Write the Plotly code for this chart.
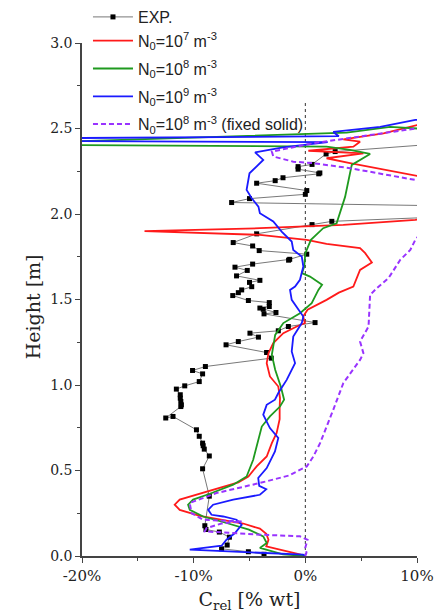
import plotly.graph_objects as go

# ---------------- data (x in % wt, height in m) ----------------
exp_x = [-3.7, -5.1, -7.5, -7.0, -6.8, -7.7, -8.9, -9.0, -8.6, -9.2, -8.6, -9.05, -9.15, -9.2,
         -9.5, -9.75, -11.85, -12.5, -11.15, -11.1, -11.15, -11.2, -11.2, -11.55, -10.8, -9.5,
         -9.2, -10.1, -8.95, -3.05, -3.47, -7.1, -6.0, -4.2, -4.96, -2.42, -1.52, 0.87, -3.7,
         -2.63, -3.77, -4.07, -3.23, -3.23, -5.1, -6.5, -6.0, -5.7, -4.8, -5.0, -4.07, -6.16,
         -5.2, -6.3, -4.72, -1.5, -1.4, 0.13, -4.13, -4.72, -6.46, -4.36, 0.6, 2.37, 30.0, -6.6,
         -5.0, 0.0, 0.13, -4.36, -2.7, -2.0, 1.2, 1.3, -0.65, -0.65, 0.6, 1.86, 2.67, 20.0]
exp_h = [0.01, 0.025, 0.042, 0.064, 0.11, 0.14, 0.155, 0.177, 0.35, 0.51, 0.585, 0.625, 0.645, 0.66,
         0.70, 0.738, 0.816, 0.807, 0.874, 0.884, 0.904, 0.923, 0.943, 0.976, 0.995, 1.02,
         1.065, 1.085, 1.108, 1.157, 1.19, 1.235, 1.254, 1.28, 1.303, 1.317, 1.342, 1.365, 1.416,
         1.424, 1.443, 1.45, 1.459, 1.482, 1.494, 1.523, 1.54, 1.556, 1.575, 1.60, 1.612, 1.638,
         1.67, 1.689, 1.707, 1.73, 1.735, 1.765, 1.786, 1.813, 1.833, 1.884, 1.938, 1.957, 2.03, 2.067,
         2.09, 2.115, 2.137, 2.18, 2.195, 2.212, 2.235, 2.24, 2.262, 2.277, 2.29, 2.351, 2.365, 2.45]

n7_x = [0.0, -0.5, -3.5, -3.3, -3.5, -4.07, -5.57, -7.66, -9.45, -11.25, -11.7, -11.25, -10.05,
        -8.26, -6.0, -5.1, -4.36, -3.46, -3.0, -2.57, -2.3, -2.3, -2.27, -2.42, -3.17, -3.46, -3.3,
        -2.87, -1.97, -0.77, -0.03, -0.2, 0.2, 1.9, 3.0, 4.3, 4.76, 4.9, 5.96, 5.36, 4.9, 1.9, 0.13,
        -4.07, -14.4, -4.07, 3.4, 9.85, 20.0, 10.0, 4.0, 1.9, 5.2, 0.27, 4.3, 4.9, 3.4, 7.0, 10.0, 15.0]
n7_h = [0.0, 0.01, 0.056, 0.095, 0.13, 0.16, 0.19, 0.216, 0.235, 0.27, 0.30, 0.33, 0.352,
        0.388, 0.43, 0.465, 0.524, 0.582, 0.66, 0.72, 0.80, 0.865, 0.923, 0.991, 1.05, 1.128, 1.186,
        1.245, 1.303, 1.342, 1.362, 1.40, 1.44, 1.498, 1.54, 1.576, 1.654, 1.673, 1.716, 1.771, 1.80,
        1.825, 1.849, 1.878, 1.90, 1.917, 1.936, 1.966, 2.1, 2.222, 2.297, 2.326, 2.355, 2.37, 2.394,
        2.423, 2.437, 2.472, 2.52, 2.55]

n8_x = [0.0, -2.0, -4.07, -3.46, -3.77, -5.05, -7.06, -9.15, -10.35, -10.5, -10.05, -8.55, -6.46,
        -5.26, -4.67, -4.22, -3.9, -3.17, -2.27, -1.9, -2.2, -2.7, -3.0, -2.7, -1.97, -0.48, 0.57,
        1.17, 1.5, 0.42, -0.3, -0.1, 0.0, 0.5, 1.6, 2.8, 3.56, 4.0, 4.16, 5.8, 4.0, 1.9, -25.0,
        -25.0, 3.7, 7.6, 10.0, 15.0]
n8_h = [0.0, 0.01, 0.047, 0.076, 0.115, 0.154, 0.193, 0.231, 0.27, 0.30, 0.33, 0.364, 0.417,
        0.465, 0.563, 0.68, 0.757, 0.816, 0.874, 0.914, 0.991, 1.089, 1.177, 1.293, 1.362, 1.42, 1.479,
        1.556, 1.586, 1.634, 1.654, 1.693, 1.771, 1.849, 1.917, 1.946, 2.10, 2.238, 2.287, 2.351,
        2.375, 2.394, 2.405, 2.415, 2.476, 2.51, 2.50, 2.50]

n9_x = [0.0, -0.2, -10.35, -7.5, -7.06, -6.3, -5.7, -6.16, -7.36, -8.4, -8.7, -8.26, -6.46, -4.07,
        -3.5, -4.13, -4.22, -3.46, -2.72, -2.42, -3.17, -3.77, -3.46, -2.72, -2.42, -1.67, -0.92,
        -1.22, -1.08, -0.32, -0.18, -0.63, -1.22, -1.37, -0.92, -0.48, -0.18, -0.32, -1.08, -1.22,
        -2.12, -2.87, -4.07, -4.2, -4.8, -5.26, -5.0, -3.77, -4.5, -2.0, 2.0, -25.0, -25.0, 3.0,
        2.5, 6.7, 9.85, 15.0]
n9_h = [0.0, 0.008, 0.037, 0.06, 0.095, 0.134, 0.183, 0.212, 0.231, 0.241, 0.27, 0.30, 0.33, 0.358,
        0.39, 0.41, 0.456, 0.514, 0.611, 0.69, 0.748, 0.826, 0.884, 0.914, 0.953, 1.03, 1.128,
        1.196, 1.283, 1.362, 1.40, 1.44, 1.498, 1.556, 1.576, 1.615, 1.693, 1.751, 1.79, 1.839,
        1.897, 1.956, 2.005, 2.043, 2.092, 2.141, 2.238, 2.316, 2.36, 2.39, 2.42, 2.428, 2.442, 2.455,
        2.48, 2.51, 2.55, 2.56]

fix_x = [0.0, 0.1, 0.0, 0.2, -0.48, -4.07, -9.0, -8.85, -7.5, -5.7, -9.15, -10.2, -10.35, -7.96,
         -4.07, -1.5, 0.13, 0.72, 1.32, 1.92, 2.5, 3.4, 4.3, 4.9, 5.2, 4.9, 5.66, 5.8, 5.8, 6.4, 7.45,
         8.5, 9.4, 9.85, 10.5, 14.0, 12.0, 9.85, 4.0, 0.72, -1.08, -2.87, -3.0, 0.72, 4.9, 9.85, 12.0]
fix_h = [0.0, 0.02, 0.05, 0.095, 0.115, 0.125, 0.144, 0.163, 0.19, 0.202, 0.212, 0.251, 0.31, 0.368,
         0.427, 0.47, 0.524, 0.582, 0.66, 0.757, 0.855, 1.011, 1.089, 1.147, 1.186, 1.254, 1.342, 1.498,
         1.527, 1.566, 1.625, 1.732, 1.79, 1.849, 1.9, 2.0, 2.15, 2.199, 2.268, 2.297, 2.306, 2.336,
         2.365, 2.414, 2.453, 2.50, 2.52]

zero_x = [0, 0]
zero_h = [0, 2.65]

x_ticks = [-20, -10, 0, 10]
x_ticktext = ["-20%", "-10%", "0%", "10%"]
x_minor = [-15, -5, 5]

# ---------------- figure ----------------
fig = go.Figure()

fig.add_trace(go.Scatter(x=zero_x, y=zero_h, mode="lines", showlegend=False,
                         line=dict(color="#333333", width=1, dash="dot"), hoverinfo="skip"))

fig.add_trace(go.Scatter(x=exp_x, y=exp_h, mode="lines+markers", name="EXP.", legendgroup="a",
                         line=dict(color="#555555", width=0.8),
                         marker=dict(symbol="square", size=5, color="black")))

fig.add_trace(go.Scatter(x=n7_x, y=n7_h, mode="lines", legendgroup="a",
                         name="N<sub>0</sub>=10<sup>7</sup> m<sup>-3</sup>",
                         line=dict(color="#ff1a1a", width=1.8)))
fig.add_trace(go.Scatter(x=n8_x, y=n8_h, mode="lines", legendgroup="b",
                         name="N<sub>0</sub>=10<sup>8</sup> m<sup>-3</sup>",
                         line=dict(color="#1f9a1f", width=1.8)))
fig.add_trace(go.Scatter(x=n9_x, y=n9_h, mode="lines", legendgroup="c",
                         name="N<sub>0</sub>=10<sup>9</sup> m<sup>-3</sup>",
                         line=dict(color="#1a1aff", width=1.8)))
fig.add_trace(go.Scatter(x=fix_x, y=fix_h, mode="lines", legendgroup="d",
                         name="N<sub>0</sub>=10<sup>8</sup> m<sup>-3</sup> (fixed solid)",
                         line=dict(color="#9933ff", width=2, dash="5px,3px")))

serif = "DejaVu Serif"
axis_color = "#444444"

fig.update_layout(
    width=441, height=614,
    margin=dict(l=82, r=24, t=43, b=58, autoexpand=False),
    paper_bgcolor="white", plot_bgcolor="white",
    showlegend=True,
    legend=dict(xref="container", yref="container", x=0.1995, y=1.0,
                xanchor="left", yanchor="top", traceorder="grouped", tracegroupgap=4,
                itemwidth=40,
                bgcolor="rgba(0,0,0,0)", borderwidth=0,
                font=dict(family="Liberation Sans", size=16, color="#222222")),
    xaxis=dict(range=[-20, 10], tickvals=x_ticks, ticktext=x_ticktext, automargin=True,
               ticks="outside", ticklen=5, tickwidth=1.2, tickcolor=axis_color,
               showline=True, linecolor=axis_color, linewidth=1.5,
               showgrid=False, zeroline=False,
               minor=dict(tickvals=x_minor, ticks="outside", ticklen=3, tickcolor=axis_color),
               tickfont=dict(family=serif, size=15, color="#222222"),
               title=dict(text="C<sub>rel</sub> [% wt]", standoff=9,
                          font=dict(family=serif, size=19, color="#222222"))),
    yaxis=dict(range=[0, 3], dtick=0.5, tickformat=".1f", automargin=True,
               ticks="outside", ticklen=5, tickwidth=1.2, tickcolor=axis_color,
               showline=True, linecolor=axis_color, linewidth=1.5,
               showgrid=False, zeroline=False,
               minor=dict(dtick=0.25, ticks="outside", ticklen=3, tickcolor=axis_color),
               tickfont=dict(family=serif, size=14, color="#222222")),
    annotations=[dict(text="Height [m]", xref="paper", yref="paper", x=-0.146, y=0.485,
                      textangle=-90, xanchor="center", yanchor="middle", showarrow=False,
                      font=dict(family=serif, size=19, color="#222222"))],
)

fig.write_html("out.html", config={"displayModeBar": False},
               post_script="document.body.style.margin='0';")
